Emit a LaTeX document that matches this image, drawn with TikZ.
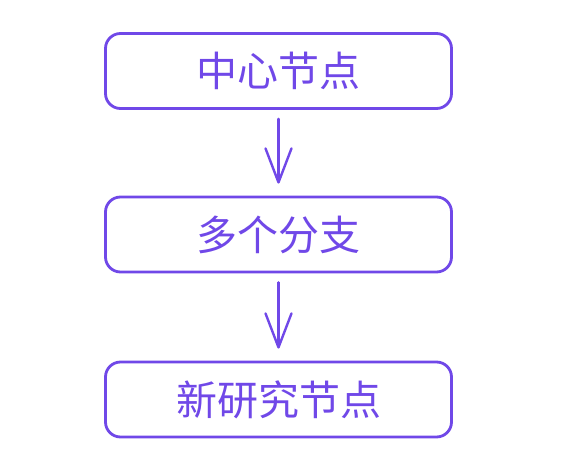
\documentclass[tikz,border=0pt]{standalone}
\usepackage{fontspec}
\newfontfamily\cjk{Noto Sans CJK SC}
\usetikzlibrary{positioning,arrows.meta}
\definecolor{violet}{RGB}{112,72,232}
\tikzset{
    box/.style={draw=violet, line width=2.8pt, rounded corners=15pt,
        minimum width=346pt, minimum height=75pt, text=violet,
        font=\cjk\fontsize{41}{43}\selectfont, inner sep=0pt},
    arr/.style={draw=violet, line width=2.4pt, line cap=round,
        -{Straight Barb[length=34pt,width=26pt,round]}}
}
\begin{document}
\begin{tikzpicture}[x=1pt,y=-1pt]
        \useasboundingbox (0,0) rectangle (570,471);
        \node[box] (center) at (278.5,71) {中心节点};
        \node[box] (branch) at (278.5,234.5) {多个分支};
        \node[box] (newnode) at (278.5,399.5) {新研究节点};
        \draw[arr] ([yshift=-9pt]center.south) -- ([yshift=12pt]branch.north);
        \draw[arr] ([yshift=-9pt]branch.south) -- ([yshift=12pt]newnode.north);
    \end{tikzpicture}
\end{document}
